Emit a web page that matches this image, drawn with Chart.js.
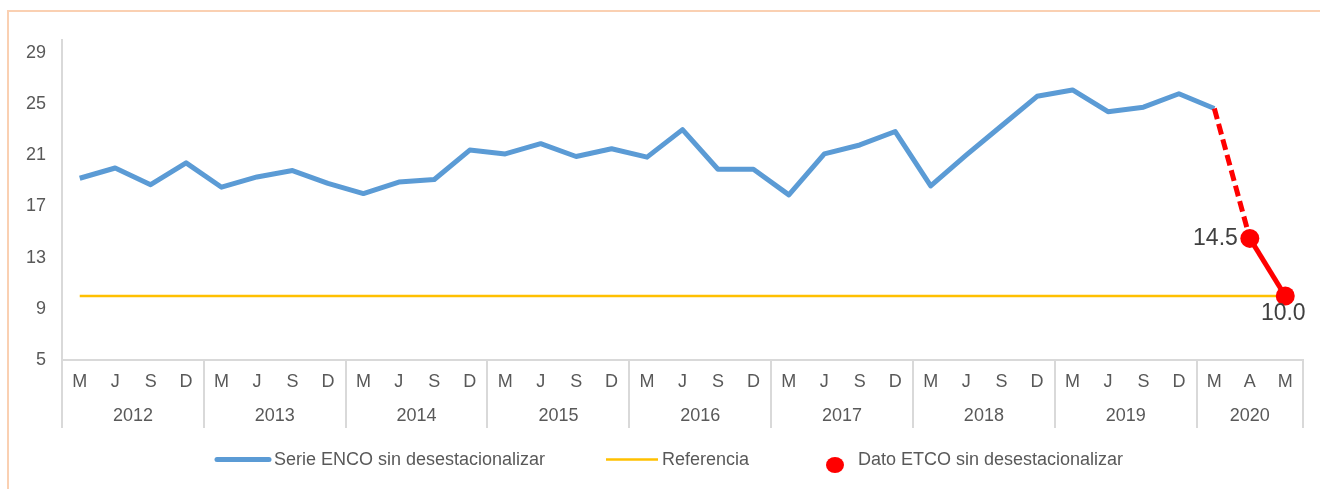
<!DOCTYPE html>
<html>
<head>
<meta charset="utf-8">
<script src="https://cdn.jsdelivr.net/npm/chart.js@4.4.1/dist/chart.umd.min.js"></script>
<style>
  html, body { margin: 0; padding: 0; background: #ffffff; }
  #wrap { position: relative; width: 1320px; height: 489px; overflow: hidden; background: #fff; }
  #frame { position: absolute; left: 7px; top: 10px; width: 1400px; height: 600px; border-top: 2px solid #FAD0B2; border-left: 2px solid #FAD0B2; pointer-events: none; }
  canvas { position: absolute; left: 0; top: 0; }
</style>
</head>
<body>
<div id="wrap">
  <canvas id="c" width="1320" height="489"></canvas>
  <div id="frame"></div>
</div>
<script>
// ---- data ----
const monthLabels = ['M','J','S','D','M','J','S','D','M','J','S','D','M','J','S','D',
                     'M','J','S','D','M','J','S','D','M','J','S','D','M','J','S','D',
                     'M','A','M'];
const years = ['2012','2013','2014','2015','2016','2017','2018','2019','2020'];
const yearSpans = [4,4,4,4,4,4,4,4,3];
const encoSerie = [19.2, 20.0, 18.7, 20.4,
                   18.5, 19.3, 19.8, 18.8,
                   18.0, 18.9, 19.1, 21.4,
                   21.1, 21.9, 20.9, 21.5,
                   20.85, 23.0, 19.9, 19.9,
                   17.9, 21.1, 21.8, 22.85,
                   18.6, 21.0, 23.3, 25.6,
                   26.1, 24.4, 24.75, 25.8,
                   24.65];
const etcoDato = [14.5, 10.0];
const referencia = 10;
const yTicks = [5, 9, 13, 17, 21, 25, 29];
const yMin = 5, yMax = 30;

// ---- derived ----
const n = monthLabels.length;
const blueData = encoSerie.concat(new Array(n - encoSerie.length).fill(null));
const refData = new Array(n).fill(referencia);
const redData = new Array(n).fill(null);
redData[encoSerie.length - 1] = encoSerie[encoSerie.length - 1];
etcoDato.forEach((v, i) => { redData[encoSerie.length + i] = v; });
const redStart = encoSerie.length - 1;
const redRadius = redData.map((v, i) => (v !== null && i > redStart) ? 9.5 : 0);

const boundaries = new Set();
{ let s = 0; yearSpans.forEach(sp => { boundaries.add(s); s += sp; }); }

const FONT = "'Liberation Sans', Arial, sans-serif";
const TXT = '#595959';

const yearPlugin = {
  id: 'yearLabels',
  afterDraw(chart) {
    const ctx = chart.ctx, x = chart.scales.x;
    ctx.save();
    ctx.font = '18px ' + FONT;
    ctx.fillStyle = TXT;
    ctx.textAlign = 'center';
    ctx.textBaseline = 'middle';
    let s = 0;
    yearSpans.forEach((sp, k) => {
      const cx = (x.getPixelForValue(s) + x.getPixelForValue(s + sp - 1)) / 2;
      ctx.fillText(years[k], cx, 416);
      s += sp;
    });
    ctx.restore();
  }
};

const dataLabelPlugin = {
  id: 'dataLabels',
  afterDatasetsDraw(chart) {
    const ctx = chart.ctx;
    const meta = chart.getDatasetMeta(2);
    ctx.save();
    ctx.font = '23px ' + FONT;
    ctx.fillStyle = '#404040';
    const pA = meta.data[redStart + 1], pB = meta.data[redStart + 2];
    ctx.textAlign = 'right'; ctx.textBaseline = 'middle';
    ctx.fillText(etcoDato[0].toFixed(1), pA.x - 12, pA.y);
    ctx.textAlign = 'center'; ctx.textBaseline = 'middle';
    ctx.fillText(etcoDato[1].toFixed(1), pB.x - 2, pB.y + 18);
    ctx.restore();
  }
};

const legendPlugin = {
  id: 'customLegend',
  afterDraw(chart) {
    const ctx = chart.ctx;
    ctx.save();
    ctx.font = '18px ' + FONT;
    ctx.fillStyle = TXT;
    ctx.textBaseline = 'middle';
    ctx.textAlign = 'left';
    // item 1
    ctx.strokeStyle = '#5B9BD5'; ctx.lineWidth = 5; ctx.lineCap = 'round';
    ctx.beginPath(); ctx.moveTo(217, 459.5); ctx.lineTo(269, 459.5); ctx.stroke();
    ctx.fillText(chart.data.datasets[0].label, 274, 460);
    // item 2
    ctx.strokeStyle = '#FFC000'; ctx.lineWidth = 2.5; ctx.lineCap = 'butt';
    ctx.beginPath(); ctx.moveTo(606, 459.5); ctx.lineTo(658, 459.5); ctx.stroke();
    ctx.fillText(chart.data.datasets[1].label, 662, 460);
    // item 3
    ctx.fillStyle = '#FF0000';
    ctx.beginPath(); ctx.ellipse(835, 465, 9, 8, 0, 0, Math.PI * 2); ctx.fill();
    ctx.fillStyle = TXT;
    ctx.fillText(chart.data.datasets[2].label, 858, 460);
    ctx.restore();
  }
};

const bgPlugin = {
  id: 'bg',
  beforeDraw(chart) {
    const ctx = chart.ctx;
    ctx.save(); ctx.fillStyle = '#ffffff'; ctx.fillRect(0, 0, chart.width, chart.height); ctx.restore();
  }
};

new Chart(document.getElementById('c'), {
  type: 'line',
  data: {
    labels: monthLabels,
    datasets: [
      {
        label: 'Serie ENCO sin desestacionalizar',
        data: blueData,
        borderColor: '#5B9BD5',
        borderWidth: 5,
        pointRadius: 0,
        tension: 0,
        borderJoinStyle: 'round',
        borderCapStyle: 'butt',
        order: 2
      },
      {
        label: 'Referencia',
        data: refData,
        borderColor: '#FFC000',
        borderWidth: 2.5,
        pointRadius: 0,
        tension: 0,
        order: 3
      },
      {
        label: 'Dato ETCO sin desestacionalizar',
        data: redData,
        borderColor: '#FF0000',
        backgroundColor: '#FF0000',
        borderWidth: 5,
        pointRadius: redRadius,
        pointBorderWidth: 0,
        pointBackgroundColor: '#FF0000',
        tension: 0,
        segment: {
          borderDash: ctx => ctx.p0DataIndex === redStart ? [11, 5] : undefined
        },
        order: 1
      }
    ]
  },
  options: {
    responsive: false,
    animation: false,
    events: [],
    layout: { padding: { top: 40, right: 17, bottom: 0, left: 0 } },
    plugins: { legend: { display: false }, tooltip: { enabled: false } },
    scales: {
      x: {
        type: 'category',
        offset: true,
        grid: {
          display: true,
          offset: true,
          drawOnChartArea: false,
          drawTicks: true,
          tickLength: 68,
          lineWidth: 2,
          color: ctx => (ctx.index === undefined || boundaries.has(ctx.index)) ? '#D9D9D9' : 'rgba(0,0,0,0)'
        },
        border: { display: true, color: '#D9D9D9', width: 2 },
        ticks: {
          font: { size: 18, family: FONT },
          color: TXT,
          maxRotation: 0,
          autoSkip: false,
          padding: -57
        },
        afterFit: s => { s.height = 129; }
      },
      y: {
        min: yMin,
        max: yMax,
        grid: { display: false, drawTicks: false },
        border: { display: true, color: '#D9D9D9', width: 2 },
        ticks: {
          font: { size: 18, family: FONT },
          color: TXT,
          padding: 16
        },
        afterBuildTicks: s => { s.ticks = yTicks.map(v => ({ value: v })); },
        afterFit: s => { s.width = 62; }
      }
    }
  },
  plugins: [bgPlugin, yearPlugin, dataLabelPlugin, legendPlugin]
});
</script>
</body>
</html>
